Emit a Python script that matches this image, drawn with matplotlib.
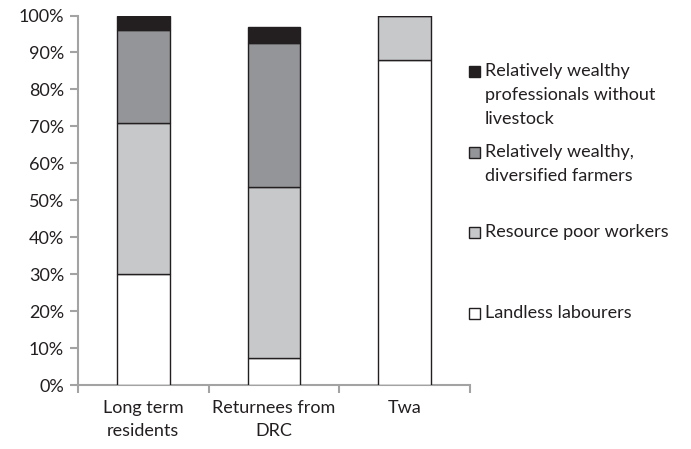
import matplotlib
matplotlib.use("Agg")
import matplotlib.pyplot as plt
from matplotlib.patches import Rectangle
import numpy as np

# Datos (fracciones)
grupos = ["Long term\nresidents", "Returnees from\nDRC", "Twa"]
landless = [0.30, 0.072, 0.88]
resource_poor = [0.41, 0.464, 0.12]
diversified = [0.25, 0.39, 0.0]
professionals = [0.04, 0.042, 0.0]

series = [landless, resource_poor, diversified, professionals]
nombres = ["Landless labourers", "Resource poor workers",
           "Relatively wealthy,\ndiversified farmers",
           "Relatively wealthy\nprofessionals without\nlivestock"]
colores = ["#ffffff", "#c7c8ca", "#939598", "#231f20"]

txt = "#231f20"
gris_eje = "#a3a3a3"
plt.rcParams['font.family'] = ['Lato', 'DejaVu Sans']
fs = 13

fig = plt.figure(figsize=(6.91, 4.49), dpi=100)
ax = fig.add_axes([78/691, 1 - 385/449, 392/691, 369.5/449])

x = np.arange(len(grupos))
base = np.zeros(len(grupos))
for vals, col in zip(series, colores):
    vals = np.array(vals)
    ax.bar(x, vals, width=0.405, bottom=base, color=col,
           edgecolor=txt, linewidth=1.0, zorder=3)
    base += vals

ax.set_xlim(-0.5, 2.5)
ax.set_ylim(0, 1)
ax.set_yticks(np.arange(0, 1.01, 0.1))
ax.set_yticklabels([f"{int(round(v*100))}%" for v in np.arange(0, 1.01, 0.1)])
ax.set_xticks(x)
ax.set_xticklabels(grupos, linespacing=1.55)
ax.set_xticks([-0.5, 0.5, 1.5, 2.5], minor=True)

for s in ["top", "right"]:
    ax.spines[s].set_visible(False)
for s in ["left", "bottom"]:
    ax.spines[s].set_color(gris_eje)
    ax.spines[s].set_linewidth(1.5)

ax.tick_params(axis="y", colors=gris_eje, labelcolor=txt, labelsize=fs,
               length=6, width=1.5, pad=4)
ax.tick_params(axis="x", which="major", length=0, labelcolor=txt,
               labelsize=fs, pad=11)
ax.tick_params(axis="x", which="minor", colors=gris_eje, length=6, width=1.5)

# Leyenda manual (estilo Excel)
W, H = 691, 449
ys = [313, 232, 152, 71]
for nombre, col, yc in zip(nombres, colores, ys):
    fig.patches.append(Rectangle((469/W, 1 - (yc + 6)/H), 11/W, 11/H,
                                 transform=fig.transFigure, facecolor=col,
                                 edgecolor=txt, linewidth=1.0))
    for i, linea in enumerate(nombre.split("\n")):
        fig.text(485/W, 1 - (yc + i*24)/H, linea, fontsize=fs,
                 color=txt, va="center", ha="left")

fig.savefig("out.png", dpi=100)
